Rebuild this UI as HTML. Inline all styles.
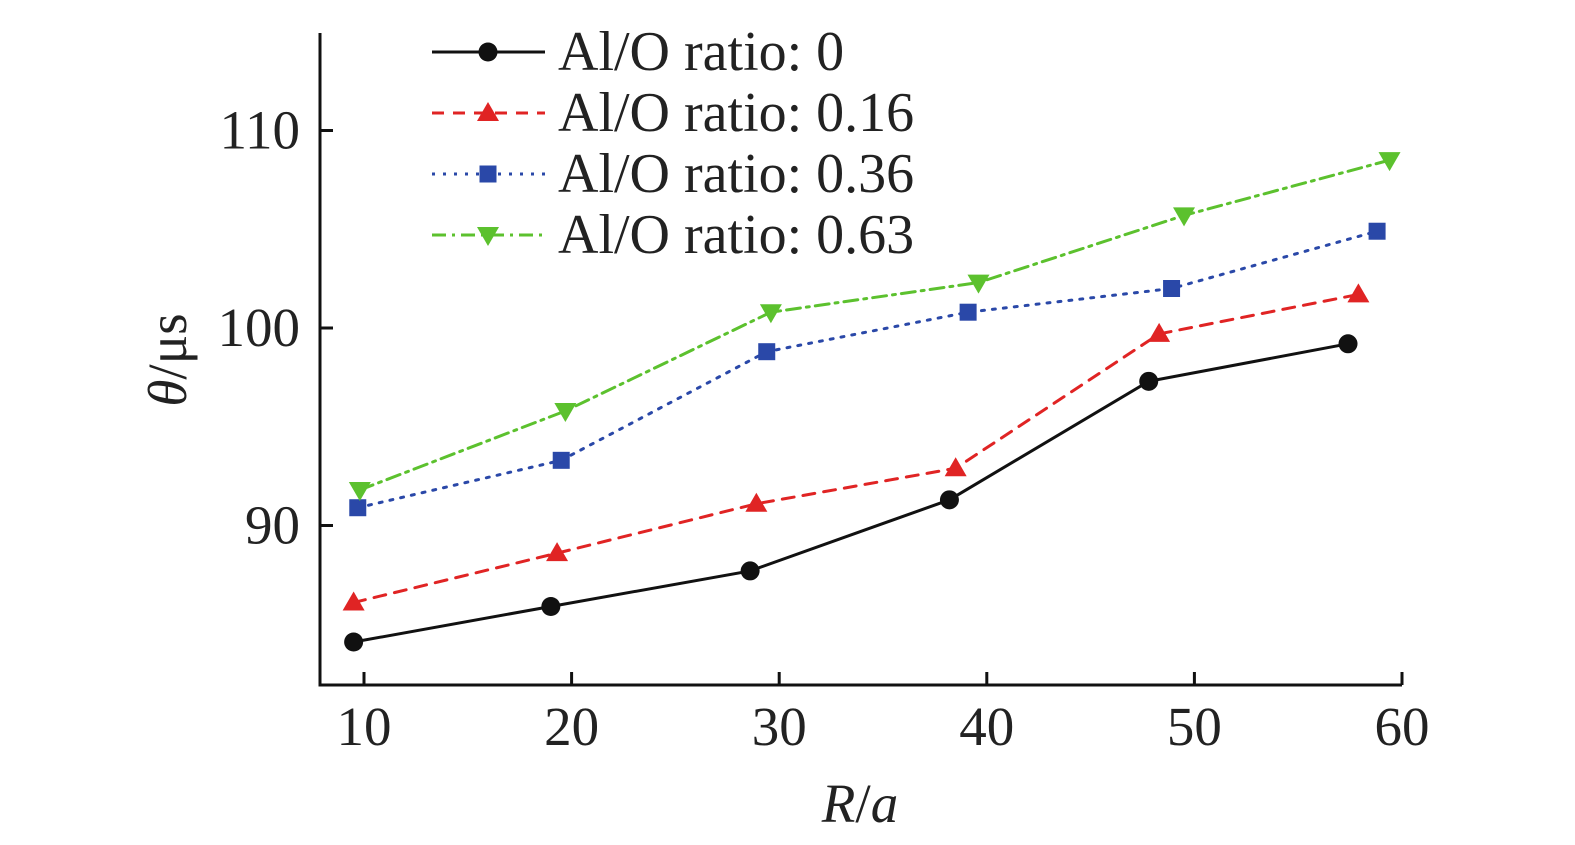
<!DOCTYPE html>
<html><head><meta charset="utf-8"><style>
html,body{margin:0;padding:0;background:#fff;}
svg{display:block;font-family:"Liberation Serif",serif;}
</style></head><body>
<svg id="chart" width="1575" height="845" xmlns="http://www.w3.org/2000/svg"></svg>
<script>
const xTicks=[10,20,30,40,50,60];
const yTicks=[90,100,110];
const labels=["Al/O ratio: 0","Al/O ratio: 0.16","Al/O ratio: 0.36","Al/O ratio: 0.63"];
const xBlack=[9.5,19.0,28.6,38.2,47.8,57.4];
const yBlack=[84.1,85.9,87.7,91.3,97.3,99.2];
const xRed=[9.5,19.3,28.9,38.5,48.3,57.9];
const yRed=[86.1,88.6,91.1,92.9,99.7,101.7];
const xBlue=[9.7,19.5,29.4,39.1,48.9,58.8];
const yBlue=[90.9,93.3,98.8,100.8,102.0,104.9];
const xGreen=[9.8,19.7,29.6,39.6,49.5,59.4];
const yGreen=[91.8,95.8,100.8,102.3,105.7,108.5];

const NS="http://www.w3.org/2000/svg";
const svg=document.getElementById('chart');
const X=v=>364+(v-10)*20.76;
const Y=v=>328-(v-100)*19.75;
function mk(tag,attrs,parent){const e=document.createElementNS(NS,tag);for(const k in attrs)e.setAttribute(k,attrs[k]);(parent||svg).appendChild(e);return e;}

let ax=mk('path',{d:'M320,33 L320,685 L1402,685',fill:'none',stroke:'#111','stroke-width':3});


xTicks.forEach(t=>{
  const l=mk('line',{x1:X(t),x2:X(t),y1:685,y2:672,stroke:'#111','stroke-width':3});
  
  
  const tx=mk('text',{x:X(t),y:745,'text-anchor':'middle','font-size':55,fill:'#222'});
  tx.textContent=t;
  
  
});
yTicks.forEach(t=>{
  const l=mk('line',{x1:320,x2:333,y1:Y(t),y2:Y(t),stroke:'#111','stroke-width':3});
  
  
  const tx=mk('text',{x:300,y:Y(t)+18,'text-anchor':'end','font-size':55,fill:'#222'});
  tx.textContent=t;
  
  
});
let xt=mk('text',{x:860,y:822,'text-anchor':'middle','font-size':55,'font-style':'italic',fill:'#222'});
xt.innerHTML='R<tspan font-style="normal">/</tspan>a';


let yt=mk('text',{x:0,y:0,'text-anchor':'middle','font-size':55,fill:'#222',transform:'translate(186,360) rotate(-90)'});
yt.innerHTML='<tspan font-style="italic">θ</tspan>/μs';



function marker(type,cx,cy,color,g){
  if(type==='circle') return mk('circle',{cx:cx,cy:cy,r:9.5,fill:color},g);
  if(type==='up') return mk('polygon',{points:`${cx},${cy-11} ${cx-11},${cy+8} ${cx+11},${cy+8}`,fill:color},g);
  if(type==='down') return mk('polygon',{points:`${cx-11},${cy-8} ${cx+11},${cy-8} ${cx},${cy+11}`,fill:color},g);
  return mk('rect',{x:cx-8.5,y:cy-8.5,width:17,height:17,fill:color},g);
}
const series=[
 {xs:xBlack,ys:yBlack,c:'#111',d:'',m:'circle',name:'series-ratio-0'},
 {xs:xRed,ys:yRed,c:'#e02424',d:'12,9',m:'up',name:'series-ratio-0-16'},
 {xs:xBlue,ys:yBlue,c:'#2a48a8',d:'3,8',m:'square',name:'series-ratio-0-36'},
 {xs:xGreen,ys:yGreen,c:'#5cc12e',d:'14,6,3,6',m:'down',name:'series-ratio-0-63'}
];
series.forEach((s,i)=>{
  const g=mk('g',{});
  
  
  const pts=s.xs.map((x,j)=>X(x)+','+Y(s.ys[j])).join(' ');
  mk('polyline',{points:pts,fill:'none',stroke:s.c,'stroke-width':3,'stroke-dasharray':s.d,'stroke-linecap':'round'},g);
  s.xs.forEach((x,j)=>{const m=marker(s.m,X(x),Y(s.ys[j]),s.c,g);
    
    });
  const ly=52+i*61;
  const lg=mk('g',{});
  
  
  mk('line',{x1:432,x2:545,y1:ly,y2:ly,stroke:s.c,'stroke-width':3,'stroke-dasharray':s.d},lg);
  marker(s.m,488,ly,s.c,lg);
  const t=mk('text',{x:558,y:ly+18,'font-size':56,fill:'#222'},lg);
  t.textContent=labels[i];
});
</script>
</body></html>
